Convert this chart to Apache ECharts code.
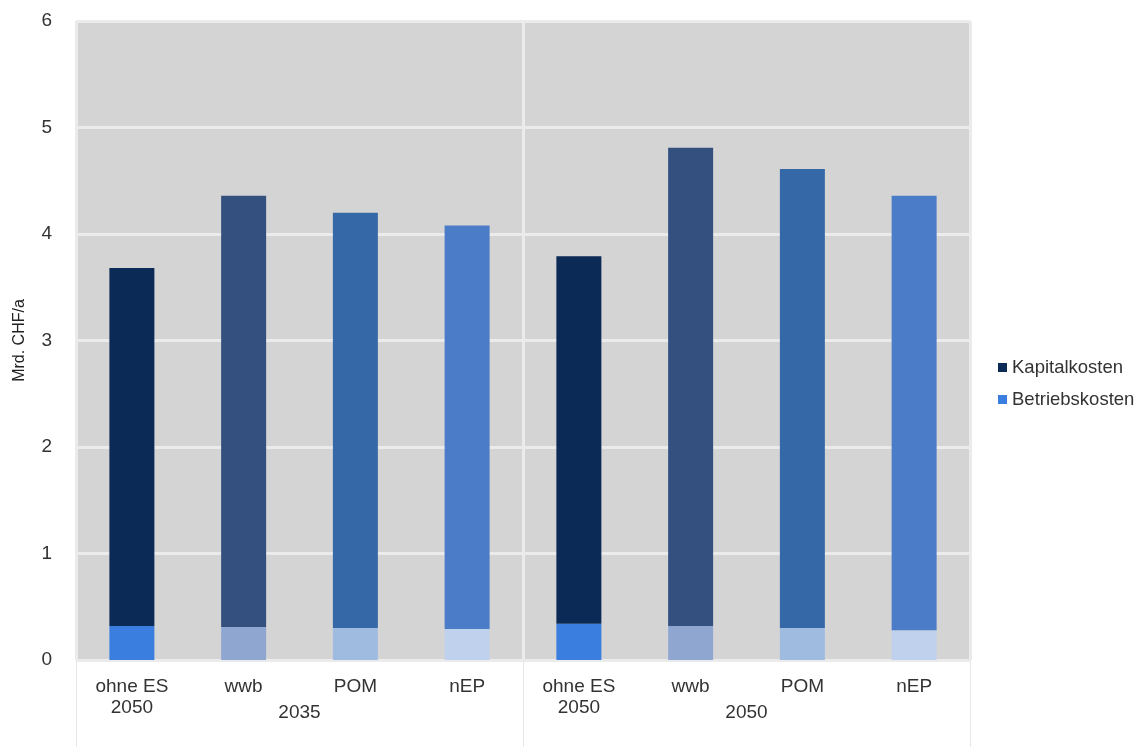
<!DOCTYPE html>
<html>
<head>
<meta charset="utf-8">
<script src="https://cdn.jsdelivr.net/npm/echarts@6/dist/echarts.min.js"></script>
<style>html,body{margin:0;padding:0;background:#fff}#c{width:1136px;height:747px}</style>
</head>
<body>
<div id="c"></div>
<script>
const categories = ['ohne ES\n2050', 'wwb', 'POM', 'nEP', 'ohne ES\n2050', 'wwb', 'POM', 'nEP'];
const groups = ['2035', '2050'];
const betriebskosten = [0.32, 0.31, 0.30, 0.29, 0.34, 0.32, 0.30, 0.28];
const kapitalkosten = [3.36, 4.05, 3.90, 3.79, 3.45, 4.49, 4.31, 4.08];
const yTicks = [0, 1, 2, 3, 4, 5, 6];
const kapitalColors = ['#0c2a56', '#34507f', '#3568a6', '#4a7cc8', '#0c2a56', '#34507f', '#3568a6', '#4a7cc8'];
const betriebColors = ['#3a7ee0', '#8fa7d0', '#9fbbe0', '#bfd1ec', '#3a7ee0', '#8fa7d0', '#9fbbe0', '#bfd1ec'];

const chart = echarts.init(document.getElementById('c'));
const font = 'Liberation Sans, Arial, sans-serif';
chart.setOption({
  animation: false,
  textStyle: { fontFamily: font },
  grid: { left: 76, right: 166, top: 21, bottom: 87, show: true, backgroundColor: '#d4d4d4', borderWidth: 0 },
  legend: {
    orient: 'vertical', left: 993, top: 353, itemWidth: 9, itemHeight: 9, itemGap: 13,
    icon: 'rect',
    textStyle: { fontSize: 18.5, color: '#333', fontFamily: font },
    data: [
      { name: 'Kapitalkosten', itemStyle: { color: '#0c2a56' } },
      { name: 'Betriebskosten', itemStyle: { color: '#3a7ee0' } }
    ]
  },
  xAxis: [
    {
      type: 'category', data: categories, position: 'bottom',
      axisLine: { show: false }, axisTick: { show: false },
      axisLabel: { interval: 0, fontSize: 19, color: '#333', margin: 16, lineHeight: 21, fontFamily: font },
      splitLine: { show: false }
    },
    {
      type: 'category', data: groups, position: 'bottom',
      axisLine: { show: false },
      axisTick: { show: true, length: 87, interval: 0, lineStyle: { color: '#e6e6e6', width: 1 } },
      axisLabel: { interval: 0, fontSize: 19, color: '#333', margin: 43, fontFamily: font },
      splitLine: { show: true, interval: 0, lineStyle: { color: '#ebebeb', width: 3 } }
    }
  ],
  yAxis: {
    type: 'value', min: 0, max: 6, interval: 1,
    name: 'Mrd. CHF/a', nameLocation: 'middle', nameGap: 48, nameRotate: 90,
    nameTextStyle: { fontSize: 16, color: '#222', fontFamily: font },
    axisLine: { show: false }, axisTick: { show: false },
    axisLabel: { fontSize: 19, color: '#333', margin: 24, fontFamily: font },
    splitLine: { lineStyle: { color: '#ebebeb', width: 3 } }
  },
  series: [
    {
      name: 'Betriebskosten', type: 'bar', stack: 't', barWidth: 45, xAxisIndex: 0,
      itemStyle: { color: '#3a7ee0' },
      data: betriebskosten.map((v, i) => ({ value: v, itemStyle: { color: betriebColors[i] } }))
    },
    {
      name: 'Kapitalkosten', type: 'bar', stack: 't', barWidth: 45, xAxisIndex: 0,
      itemStyle: { color: '#0c2a56' },
      data: kapitalkosten.map((v, i) => ({ value: v, itemStyle: { color: kapitalColors[i] } }))
    }
  ]
});
</script>
</body>
</html>
